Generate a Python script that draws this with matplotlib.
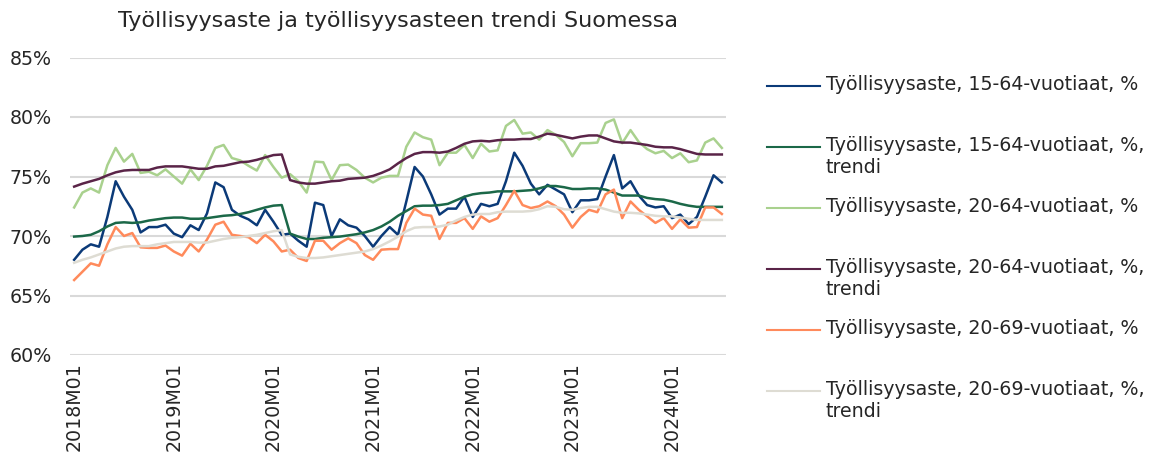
import matplotlib.pyplot as plt
from matplotlib.lines import Line2D

# Kuukaudet 2018M01 - 2024M07
months = [f"{y}M{m:02d}" for y in range(2018, 2025) for m in range(1, 13)][:79]

# Työllisyysaste, 15-64-vuotiaat, %
rate_15_64 = [68.0, 68.85, 69.3, 69.1, 71.6, 74.6, 73.3, 72.2, 70.3, 70.75,
              70.75, 70.95, 70.2, 69.9, 70.9, 70.5, 71.9, 74.5, 74.1, 72.2,
              71.7, 71.4, 70.9, 72.2, 71.2, 70.1, 70.2, 69.6, 69.1, 72.8,
              72.6, 70.0, 71.4, 70.9, 70.7, 70.0, 69.1, 70.0, 70.75, 70.1,
              72.9, 75.8, 75.0, 73.5, 71.8, 72.3, 72.3, 73.3, 71.6, 72.7,
              72.5, 72.7, 74.6, 77.0, 75.9, 74.4, 73.5, 74.3, 73.9, 73.5,
              72.0, 73.0, 73.0, 73.1, 75.0, 76.8, 74.0, 74.6, 73.4, 72.6,
              72.4, 72.5, 71.5, 71.8, 71.0, 71.6, 73.3, 75.1, 74.5]

# Työllisyysaste, 15-64-vuotiaat, %, trendi
trend_15_64 = [69.95, 70.0, 70.1, 70.4, 70.8, 71.1, 71.15, 71.1, 71.15, 71.3,
               71.4, 71.5, 71.55, 71.55, 71.45, 71.45, 71.5, 71.6, 71.7, 71.75,
               71.85, 72.0, 72.2, 72.4, 72.55, 72.6, 70.2, 69.95, 69.75, 69.75,
               69.85, 69.9, 69.95, 70.05, 70.15, 70.3, 70.5, 70.8, 71.2, 71.7,
               72.1, 72.5, 72.55, 72.55, 72.6, 72.7, 73.0, 73.3, 73.5, 73.6,
               73.65, 73.75, 73.75, 73.75, 73.8, 73.85, 74.0, 74.2, 74.2, 74.1,
               73.95, 73.95, 74.0, 74.0, 73.9, 73.65, 73.4, 73.4, 73.4, 73.2,
               73.1, 73.05, 72.9, 72.7, 72.55, 72.45, 72.45, 72.45, 72.45]

# Työllisyysaste, 20-64-vuotiaat, %
rate_20_64 = [72.4, 73.65, 74.0, 73.65, 75.95, 77.4, 76.25, 76.9, 75.3, 75.4,
              75.1, 75.6, 75.0, 74.4, 75.6, 74.7, 75.9, 77.4, 77.65, 76.55,
              76.35, 75.9, 75.5, 76.8, 75.8, 74.9, 75.2, 74.6, 73.65, 76.25,
              76.2, 74.7, 75.95, 76.0, 75.55, 74.9, 74.5, 74.9, 75.05, 75.05,
              77.5, 78.7, 78.3, 78.1, 75.95, 77.0, 77.0, 77.65, 76.55, 77.75,
              77.1, 77.2, 79.25, 79.75, 78.6, 78.7, 78.1, 78.9, 78.5, 77.9,
              76.7, 77.8, 77.8, 77.85, 79.5, 79.8, 77.8, 78.9, 77.9, 77.3,
              76.95, 77.15, 76.55, 76.95, 76.2, 76.35, 77.85, 78.2, 77.4]

# Työllisyysaste, 20-64-vuotiaat, %, trendi
trend_20_64 = [74.15, 74.4, 74.6, 74.8, 75.1, 75.35, 75.5, 75.55, 75.55, 75.55,
               75.75, 75.85, 75.85, 75.85, 75.75, 75.65, 75.65, 75.85, 75.9, 76.05,
               76.2, 76.25, 76.4, 76.6, 76.8, 76.85, 74.7, 74.5, 74.4, 74.4,
               74.5, 74.6, 74.65, 74.8, 74.85, 74.9, 75.05, 75.3, 75.6, 76.1,
               76.55, 76.9, 77.05, 77.05, 77.0, 77.1, 77.4, 77.75, 77.95, 78.0,
               77.95, 78.05, 78.1, 78.1, 78.15, 78.15, 78.35, 78.6, 78.5, 78.35,
               78.2, 78.35, 78.45, 78.45, 78.2, 77.95, 77.85, 77.85, 77.75, 77.65,
               77.5, 77.45, 77.45, 77.3, 77.1, 76.9, 76.85, 76.85, 76.85]

# Työllisyysaste, 20-69-vuotiaat, %
rate_20_69 = [66.3, 67.0, 67.7, 67.5, 69.3, 70.75, 70.0, 70.25, 69.05, 69.0,
              69.0, 69.2, 68.7, 68.35, 69.35, 68.7, 69.7, 70.95, 71.2, 70.1,
              70.0, 69.9, 69.4, 70.1, 69.55, 68.7, 68.85, 68.15, 67.9, 69.6,
              69.6, 68.85, 69.4, 69.8, 69.4, 68.4, 68.0, 68.85, 68.9, 68.9,
              71.1, 72.3, 71.8, 71.7, 69.75, 71.1, 71.1, 71.5, 70.6, 71.65,
              71.2, 71.5, 72.6, 73.8, 72.6, 72.35, 72.5, 72.9, 72.5, 71.8,
              70.7, 71.6, 72.2, 72.0, 73.5, 73.9, 71.5, 72.9, 72.2, 71.65,
              71.1, 71.5, 70.6, 71.4, 70.7, 70.75, 72.4, 72.4, 71.85]

# Työllisyysaste, 20-69-vuotiaat, %, trendi
trend_20_69 = [67.75, 68.0, 68.2, 68.45, 68.7, 68.95, 69.1, 69.15, 69.15, 69.15,
               69.3, 69.4, 69.5, 69.5, 69.5, 69.45, 69.45, 69.6, 69.75, 69.85,
               69.9, 70.0, 70.1, 70.25, 70.4, 70.5, 68.45, 68.25, 68.15, 68.15,
               68.2, 68.3, 68.4, 68.5, 68.6, 68.7, 68.9, 69.2, 69.55, 69.95,
               70.4, 70.7, 70.75, 70.75, 70.8, 70.95, 71.3, 71.6, 71.8, 71.85,
               71.85, 72.0, 72.05, 72.05, 72.05, 72.1, 72.25, 72.5, 72.45, 72.25,
               72.2, 72.35, 72.45, 72.45, 72.25, 72.05, 71.95, 71.95, 71.9, 71.8,
               71.7, 71.65, 71.65, 71.55, 71.45, 71.35, 71.35, 71.35, 71.35]

labels = ['Työllisyysaste, 15-64-vuotiaat, %',
          'Työllisyysaste, 15-64-vuotiaat, %,\ntrendi',
          'Työllisyysaste, 20-64-vuotiaat, %',
          'Työllisyysaste, 20-64-vuotiaat, %,\ntrendi',
          'Työllisyysaste, 20-69-vuotiaat, %',
          'Työllisyysaste, 20-69-vuotiaat, %,\ntrendi']
colors = ['#0B3A78', '#1B6848', '#A9D18E', '#5A2448', '#FF8A5B', '#DEDCD3']
series = [rate_15_64, trend_15_64, rate_20_64, trend_20_64, rate_20_69, trend_20_69]

plt.rcParams['font.family'] = 'DejaVu Sans'
text_color = '#262626'

W, H = 1150, 453
fig = plt.figure(figsize=(W / 100, H / 100), dpi=100)
ax = fig.add_axes([70 / W, 1 - 355 / H, 656 / W, (355 - 57.5) / H])

x = list(range(len(months)))
for vals, col in zip(series, colors):
    ax.plot(x, vals, color=col, linewidth=1.8, solid_joinstyle='round')

# Akselit
ax.set_xlim(-0.5, len(months) - 0.5)
ax.set_ylim(60, 85)
ax.set_yticks([60, 65, 70, 75, 80, 85])
ax.set_yticklabels([f'{v}%' for v in [60, 65, 70, 75, 80, 85]])
ax.set_xticks(x[::12])
ax.set_xticklabels(months[::12], rotation=90)
ax.tick_params(axis='y', length=0, pad=13, labelsize=13.7, colors=text_color)
ax.tick_params(axis='x', length=0, pad=5, labelsize=13.7, colors=text_color)
ax.grid(axis='y', color='#D9D9D9', linewidth=1.5)
ax.set_axisbelow(True)
for s in ax.spines.values():
    s.set_visible(False)

# Otsikko
fig.text(398 / W, 1 - 21 / H, 'Työllisyysaste ja työllisyysasteen trendi Suomessa',
         ha='center', va='center', fontsize=16, color=text_color)

# Selite
legend_y = [86, 147, 208, 269, 330, 391]
for lab, col, y in zip(labels, colors, legend_y):
    fig.add_artist(Line2D([767 / W, 820 / W], [1 - y / H, 1 - y / H],
                          transform=fig.transFigure, color=col, linewidth=1.5))
    fig.text(826 / W, 1 - (y - 11) / H, lab, ha='left', va='top',
             fontsize=13.7, color=text_color, linespacing=1.2)

fig.savefig('out.png', dpi=100)
